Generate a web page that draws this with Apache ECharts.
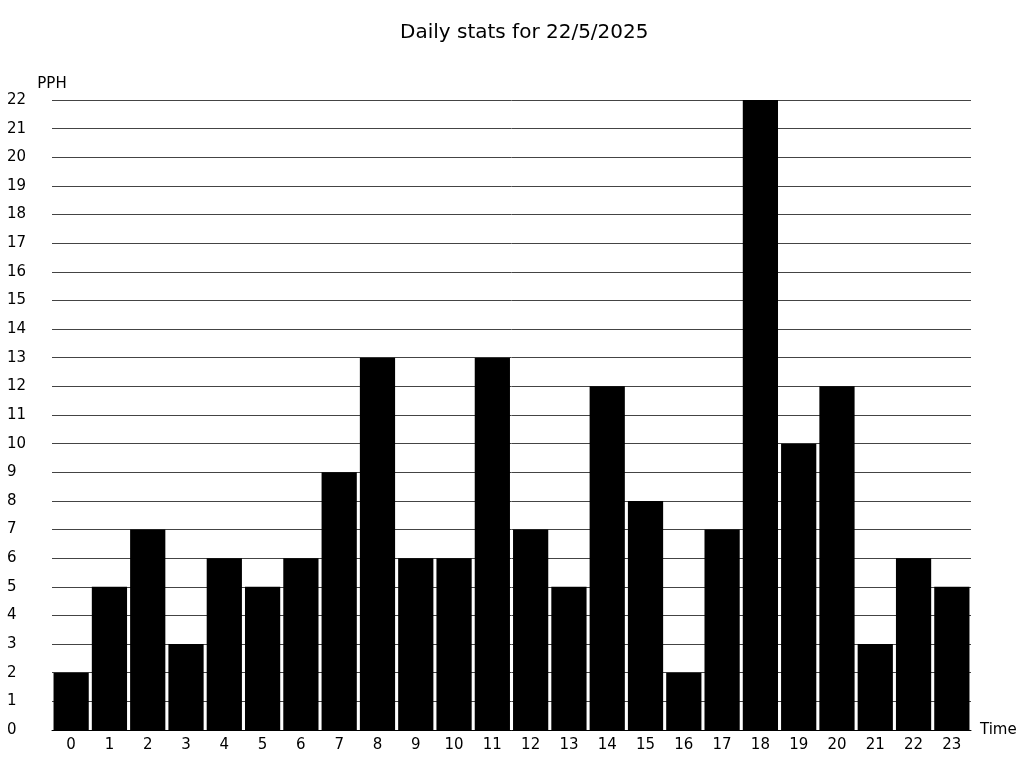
<!DOCTYPE html>
<html>
<head>
<meta charset="utf-8">
<script src="https://cdn.jsdelivr.net/npm/echarts@6/dist/echarts.min.js"></script>
<style>html,body{margin:0;padding:0;background:#fff}#c{width:1024px;height:768px}</style>
</head>
<body>
<div id="c"></div>
<script>
const hours = ['0','1','2','3','4','5','6','7','8','9','10','11','12','13','14','15','16','17','18','19','20','21','22','23'];
const pph = [2,5,7,3,6,5,6,9,13,6,6,13,7,5,12,8,2,7,22,10,12,3,6,5];
const titleText = 'Daily stats for 22/5/2025';

const chart = echarts.init(document.getElementById('c'));
const font = 'DejaVu Sans';
chart.setOption({
  animation: false,
  backgroundColor: '#fff',
  title: {
    text: titleText, left: 395, top: 18,
    textStyle: {fontFamily: font, fontSize: 20, fontWeight: 'normal', color: '#000'}
  },
  grid: {left: 52, right: 53, top: 100, bottom: 38},
  xAxis: {
    type: 'category', data: hours,
    name: 'Time', nameLocation: 'end', nameGap: 9,
    nameTextStyle: {fontFamily: font, fontSize: 15, color: '#000', verticalAlign: 'middle'},
    axisLine: {lineStyle: {color: '#000', width: 1}},
    axisTick: {show: false},
    axisLabel: {fontFamily: font, fontSize: 15, color: '#000', margin: 8},
    splitLine: {show: false}
  },
  yAxis: {
    type: 'value', min: 0, max: 22, interval: 1,
    name: 'PPH', nameLocation: 'end', nameGap: 8,
    nameTextStyle: {fontFamily: font, fontSize: 15, color: '#000', align: 'center'},
    axisLine: {show: false},
    axisTick: {show: false},
    axisLabel: {fontFamily: font, fontSize: 15, color: '#000', align: 'left', margin: 45},
    splitLine: {lineStyle: {color: '#444', width: 1}}
  },
  series: [{
    type: 'bar', data: pph, barCategoryGap: '8%',
    itemStyle: {color: '#000'}
  }]
});
</script>
</body>
</html>
